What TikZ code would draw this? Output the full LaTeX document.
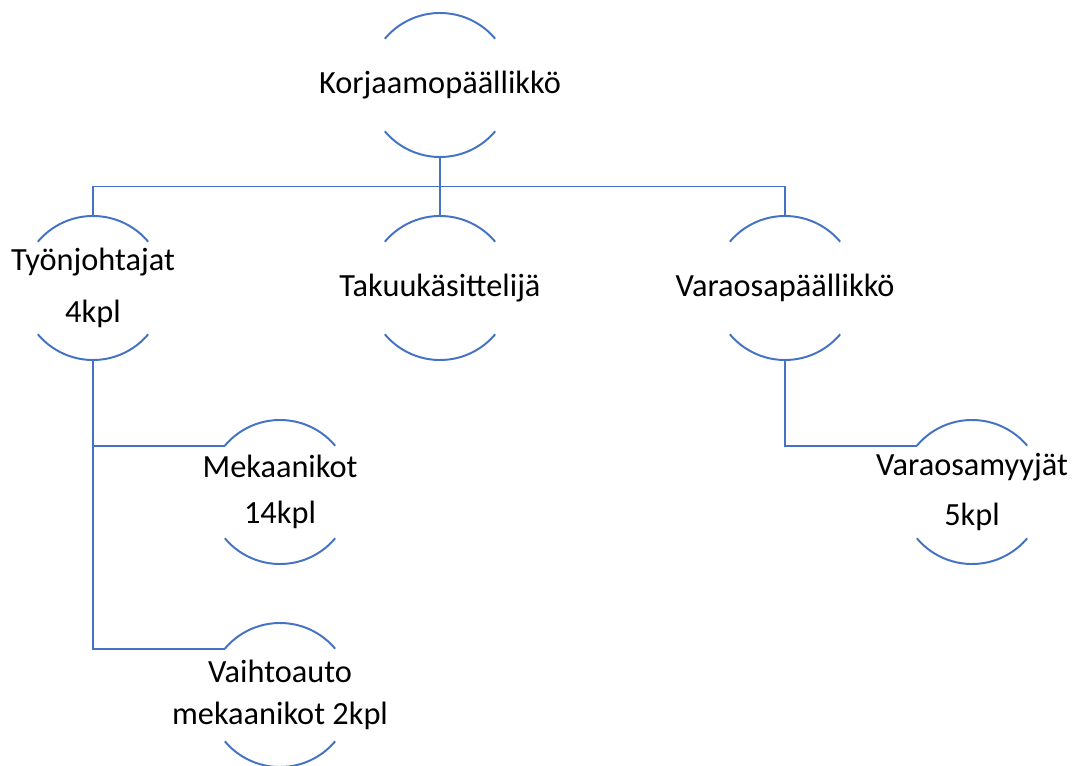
\documentclass[tikz,border=0pt]{standalone}
\usepackage{fontspec}
\setmainfont{Carlito}
\usetikzlibrary{calc}
\definecolor{oblue}{RGB}{68,114,196}
\tikzset{oline/.style = {draw=oblue, line width=1.4pt}}
\tikzset{orgtext/.style = {align=center, inner sep=0pt, font=\fontsize{23}{29.5}\selectfont}}

\begin{document}
\begin{tikzpicture}[x=0.025cm, y=0.025cm]
      \useasboundingbox (0, 0) rectangle (1078, 765);

      \node [orgtext] (kp) at (440, 680) {Korjaamopäällikkö};
      \node [orgtext] (tj) at (93, 477) {Työnjohtajat\\[7.5pt]4kpl};
      \node [orgtext] (tk) at (440, 477) {Takuukäsittelijä};
      \node [orgtext] (vp) at (785, 477) {Varaosapäällikkö};
      \node [orgtext] (mk) at (280, 273) {Mekaanikot\\[3pt]14kpl};
      \node [orgtext] (va) at (280, 70) {Vaihtoauto\\mekaanikot 2kpl};
      \node [orgtext] (vm) at (972, 273) {Varaosamyyjät\\[6pt]5kpl};

      \foreach \n in {kp, tj, tk, vp, mk, va, vm} {
        \draw [oline] ([shift={(140:1.8cm)}]\n.center) arc [start angle=140, end angle=40, radius=1.8cm];
        \draw [oline] ([shift={(220:1.8cm)}]\n.center) arc [start angle=220, end angle=320, radius=1.8cm];
        \coordinate (\n-t) at ([yshift=1.8cm]\n.center);
        \coordinate (\n-b) at ([yshift=-1.8cm]\n.center);
        \coordinate (\n-l) at ([shift={(140:1.8cm)}]\n.center);
      }

      \coordinate (bus) at ($(kp-b)!0.5!(tk-t)$);
      \draw [oline] (kp-b) -- (tk-t);
      \draw [oline] (tj-t) |- (bus) -| (vp-t);

      \draw [oline] (tj-b) |- (mk-l);
      \draw [oline] (tj-b) |- (va-l);
      \draw [oline] (vp-b) |- (vm-l);
    \end{tikzpicture}
\end{document}
